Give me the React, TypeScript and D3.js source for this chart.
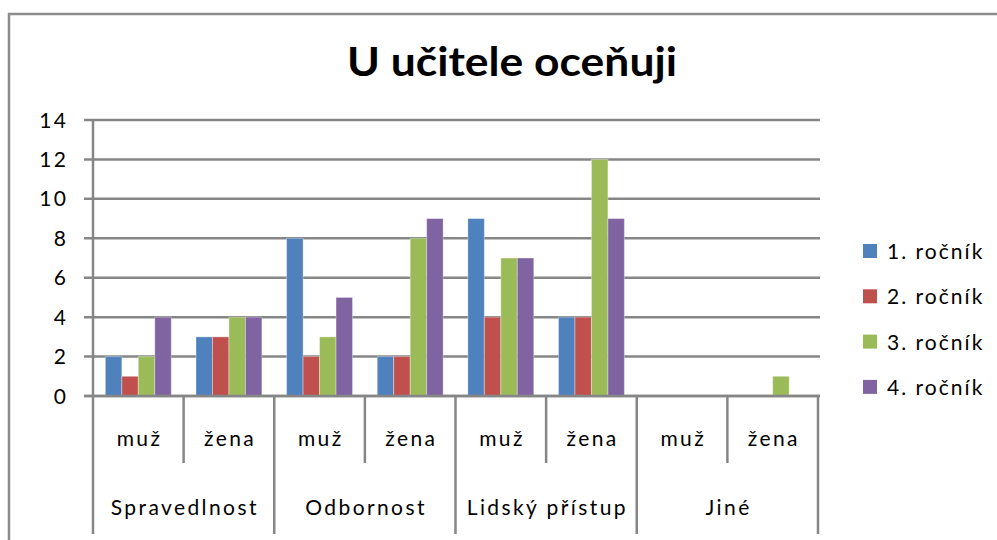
import React from "react";
import * as d3 from "d3";

const groups = ["Spravedlnost", "Odbornost", "Lidský přístup", "Jiné"];
const genders = ["muž", "žena"];
const series = ["1. ročník", "2. ročník", "3. ročník", "4. ročník"];
const colors = ["#4F81BD", "#C0504D", "#9BBB59", "#8064A2"];
// values per subcategory (group × gender), one array per series
const rocnik1 = [2, 3, 8, 2, 9, 4, 0, 0];
const rocnik2 = [1, 3, 2, 2, 4, 4, 0, 0];
const rocnik3 = [2, 4, 3, 8, 7, 12, 0, 1];
const rocnik4 = [4, 4, 5, 9, 7, 9, 0, 0];
const values = [rocnik1, rocnik2, rocnik3, rocnik4];
const yTicks = [0, 2, 4, 6, 8, 10, 12, 14];

const W = 997;
const H = 540;
const left = 93;
const right = 818;
const top = 120;
const bottom = 396;
const font = "Lato, 'Noto Sans', sans-serif";
const axisColor = "#868686";
const fs = 21;
const ls = 2.4;

export default function App() {
  const subs = groups.flatMap((g) => genders.map((s) => `${g}|${s}`));
  const x0 = d3.scaleBand().domain(subs).range([left, right]);
  const x1 = d3
    .scaleBand()
    .domain(series)
    .range([0, x0.bandwidth()])
    .paddingInner(0)
    .paddingOuter(0.75);
  const y = d3.scaleLinear().domain([0, 14]).range([bottom, top]);
  const gx = d3.scaleBand().domain(groups).range([left, right]);

  return (
    <svg width={W} height={H} style={{ position: "absolute", left: 0, top: 0 }}>
      <rect x={0} y={0} width={W} height={H} fill="#fff" />
      {/* outer frame */}
      <path d={`M9,${H + 5} V14 H${W + 5}`} fill="none" stroke="#8c8c8c" strokeWidth={2.5} />
      <text
        x={512}
        y={76}
        textAnchor="middle"
        fontFamily={font}
        fontWeight="bold"
        fontSize={40}
        textLength={330}
        lengthAdjust="spacingAndGlyphs"
        fill="#000"
      >
        U učitele oceňuji
      </text>
      {/* gridlines and y ticks */}
      {yTicks.map((t) => (
        <g key={t}>
          <line x1={84} x2={right + 2} y1={y(t)} y2={y(t)} stroke={axisColor} strokeWidth={2.5} />
          <text
            x={66 + ls}
            y={y(t) + 7.5}
            textAnchor="end"
            fontFamily={font}
            fontSize={fs}
            letterSpacing={ls}
            fill="#000"
          >
            {t}
          </text>
        </g>
      ))}
      <line x1={left} x2={left} y1={top} y2={bottom} stroke={axisColor} strokeWidth={2.5} />
      {/* bars */}
      {series.map((s, si) =>
        subs.map((sub, ci) => {
          const v = values[si][ci];
          if (!v) return null;
          return (
            <rect
              key={s + sub}
              x={(x0(sub) as number) + (x1(s) as number)}
              y={y(v)}
              width={x1.bandwidth()}
              height={y(0) - y(v)}
              fill={colors[si]}
              stroke="#ffffff"
              strokeOpacity={0.35}
              strokeWidth={1}
            />
          );
        })
      )}
      {/* category axis */}
      {subs.map((sub, i) => (
        <g key={sub}>
          {i % 2 === 1 && (
            <line
              x1={x0(sub) as number}
              x2={x0(sub) as number}
              y1={bottom}
              y2={463}
              stroke={axisColor}
              strokeWidth={2.5}
            />
          )}
          <text
            x={(x0(sub) as number) + x0.bandwidth() / 2 + ls / 2}
            y={446}
            textAnchor="middle"
            fontFamily={font}
            fontSize={fs}
            letterSpacing={ls}
            fill="#000"
          >
            {sub.split("|")[1]}
          </text>
        </g>
      ))}
      {groups.map((g) => (
        <g key={g}>
          <line
            x1={gx(g) as number}
            x2={gx(g) as number}
            y1={bottom}
            y2={534}
            stroke={axisColor}
            strokeWidth={2.5}
          />
          <text
            x={(gx(g) as number) + gx.bandwidth() / 2 + ls / 2}
            y={515}
            textAnchor="middle"
            fontFamily={font}
            fontSize={fs}
            letterSpacing={ls}
            fill="#000"
          >
            {g}
          </text>
        </g>
      ))}
      <line x1={right} x2={right} y1={bottom} y2={534} stroke={axisColor} strokeWidth={2.5} />
      <line x1={84} x2={right + 2} y1={bottom} y2={bottom} stroke={axisColor} strokeWidth={2.5} />
      {/* legend */}
      {series.map((s, i) => (
        <g key={s} transform={`translate(863, ${251 + i * 45.3})`}>
          <rect x={0} y={-7} width={14} height={14} fill={colors[i]} />
          <text x={24} y={8} fontFamily={font} fontSize={fs} letterSpacing={2} fill="#000">
            {s}
          </text>
        </g>
      ))}
    </svg>
  );
}
